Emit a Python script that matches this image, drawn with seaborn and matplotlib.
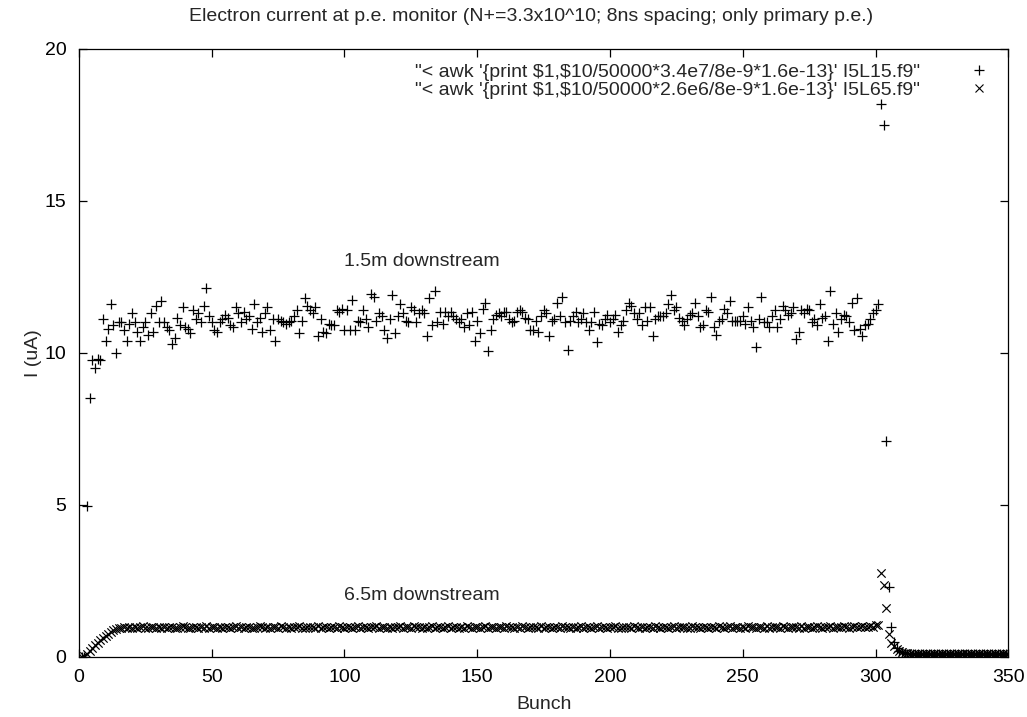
import matplotlib
matplotlib.use("Agg")
import matplotlib.pyplot as plt
import seaborn as sns
import pandas as pd
from matplotlib.lines import Line2D

# ---------------- data ----------------
bunches = list(range(1, 351))

# 1.5 m downstream ("+" series), bunches 1..350
l15_a = [0.0, 0.0, 4.95, 8.5, 9.77, 9.5, 9.8, 9.77, 11.1, 10.4, 10.8, 11.6, 10.9, 10.0, 11.0, 11.0, 10.75, 10.4, 10.95, 11.3,
         11.0, 10.7, 10.4, 10.85, 11.0, 10.6, 11.3, 10.7, 11.55, 11.0, 11.7, 11.0, 10.85, 10.75, 10.3, 10.5, 11.15, 10.9, 11.5, 10.85,
         10.8, 10.65, 11.4, 11.1, 11.3, 11.0, 11.55, 12.15, 11.2, 11.0, 10.75, 10.7, 11.0, 11.1, 11.25, 11.15, 10.9, 10.85, 11.5, 11.3,
         11.0, 11.35, 11.1, 11.2, 10.8, 11.6, 11.0, 11.15, 10.7, 11.3, 11.5, 10.75, 11.1, 10.4, 11.1, 11.05, 11.0, 10.95, 11.0, 11.05,
         11.2, 11.4]
l15_b = [10.65, 11.05, 11.8, 11.55, 11.4, 11.3, 11.5, 10.55, 11.1, 10.7, 10.65, 10.95, 10.9, 10.9, 11.4, 11.35, 11.45, 10.75, 11.4, 10.75,
         11.75, 10.75, 11.05, 11.0, 11.4, 11.1, 10.85, 11.95, 11.85, 11.05, 11.3, 11.2, 10.75, 10.5, 11.1, 11.9, 10.65, 11.2, 11.6, 11.3,
         11.05, 11.0, 11.5, 11.4, 11.0, 11.3, 11.4, 11.3, 10.55, 11.8, 10.9, 12.05, 11.0, 11.35, 10.95, 11.35, 11.2, 11.35, 11.2, 11.1,
         11.0, 11.1, 10.85, 11.3, 10.9, 11.35, 10.4, 11.05, 10.65, 11.45, 11.65, 10.05, 10.75, 11.1, 11.25, 11.3, 11.2, 11.35, 11.35, 11.1,
         11.0, 11.05, 11.35]
l15_c = [11.4, 11.35, 11.15, 11.1, 10.75, 10.75, 11.05, 10.7, 11.2, 11.4, 11.3, 10.55, 11.05, 11.1, 11.65, 11.2, 11.85, 11.0, 10.1, 11.05,
         11.2, 11.35, 11.0, 11.1, 11.3, 11.0, 10.75, 11.0, 11.35, 10.35, 10.95, 10.9, 11.1, 11.25, 11.0, 11.1, 11.25, 10.7, 10.9, 11.05,
         11.4, 11.65, 11.55, 11.3, 11.1, 11.3, 10.9, 11.5, 11.05, 11.5, 10.55, 11.1, 11.2, 11.2, 11.2, 11.3, 11.6, 11.9, 11.4, 11.5,
         11.15, 11.05, 10.9, 11.1, 11.25, 11.3, 11.65, 11.2, 10.85, 10.9, 11.4, 11.35, 11.85, 10.85, 10.6, 11.05, 11.1, 11.45, 11.3, 11.7,
         11.05, 11.05, 11.05]
l15_d = [11.05, 11.2, 10.95, 11.5, 11.05, 10.85, 10.2, 11.1, 11.85, 11.0, 11.0, 10.85, 11.2, 11.4, 10.85, 11.1, 11.55, 11.4, 11.25, 11.3,
         11.5, 10.45, 10.7, 11.4, 11.3, 11.45, 11.4, 11.0, 11.1, 10.9, 11.6, 11.15, 11.2, 10.4, 12.05, 10.95, 11.3, 10.7, 11.1, 11.25,
         11.2, 11.0, 11.65, 10.75, 11.8, 10.8, 10.55, 10.9, 10.95, 11.1, 11.3, 11.4, 11.6]
l15_e = [18.2, 17.5, 7.1, 2.3, 0.98, 0.5, 0.3, 0.2, 0.15, 0.12,
         0.1, 0.1, 0.1, 0.1, 0.1, 0.1, 0.1, 0.1, 0.1, 0.1,
         0.1, 0.1, 0.1, 0.1, 0.1, 0.1, 0.1, 0.1, 0.1, 0.1,
         0.1, 0.1, 0.1, 0.1, 0.1, 0.1, 0.1, 0.1, 0.1, 0.1,
         0.1, 0.1, 0.1, 0.1, 0.1, 0.1, 0.1, 0.1, 0.1]
current_15m = l15_a + l15_b + l15_c + l15_d + l15_e

# 6.5 m downstream ("x" series), bunches 1..350
l65_rise = [0.0, 0.03, 0.1, 0.19, 0.28, 0.37, 0.46, 0.54, 0.62, 0.69, 0.76, 0.82, 0.87, 0.91, 0.93]
l65_flat = [
    0.95, 0.97, 0.94, 0.98, 0.96, 0.99, 0.95, 0.97, 1.0, 0.96, 0.94, 0.98, 0.97, 0.95, 0.99, 0.96, 0.98, 0.94, 0.97, 0.99,
    0.96, 0.95, 0.98, 1.0, 0.97, 0.94, 0.96, 0.99, 0.97, 0.95, 0.98, 0.96, 1.01, 0.95, 0.97, 0.99, 0.94, 0.98, 0.96, 0.97,
    0.99, 0.95, 0.97, 1.0, 0.96, 0.98, 0.95, 0.97, 0.99, 0.96, 0.94, 0.98, 1.01, 0.97, 0.95, 0.99, 0.96, 0.98, 0.97, 0.95,
    1.0, 0.97, 0.96, 0.99, 0.95, 0.98, 0.97, 1.01, 0.96, 0.95, 0.99, 0.97, 0.98, 0.96, 1.0, 0.95, 0.97, 0.99, 0.96, 0.98,
    0.97, 0.95, 1.0, 0.98, 0.96, 0.99, 0.97, 0.95, 0.98, 1.01, 0.96, 0.97, 0.99, 0.95, 0.98, 0.97, 1.0, 0.96, 0.97, 0.99,
    0.96, 0.98, 0.95, 0.99, 0.97, 1.01, 0.96, 0.98, 0.97, 0.95, 1.0, 0.97, 0.99, 0.96, 0.98, 0.95, 0.97, 1.0, 0.96, 0.99,
    0.97, 0.95, 0.98, 1.0, 0.96, 0.97, 0.99, 0.95, 0.98, 0.96, 1.01, 0.97, 0.95, 0.99, 0.97, 0.96, 0.98, 1.0, 0.95, 0.97,
    0.99, 0.96, 0.98, 0.97, 0.95, 1.0, 0.97, 0.99, 0.96, 0.98, 0.95, 1.01, 0.97, 0.96, 0.99, 0.97, 0.98, 0.95, 1.0, 0.96,
    0.97, 0.99, 0.95, 0.98, 0.97, 0.96, 1.0, 0.97, 0.99, 0.95, 0.98, 0.96, 0.97, 1.01, 0.95, 0.99, 0.97, 0.96, 0.98, 1.0,
    0.96, 0.97, 0.99, 0.95, 0.98, 0.97, 1.0, 0.96, 0.95, 0.99, 0.97, 0.98, 0.96, 1.01, 0.97, 0.95, 0.99, 0.96, 0.98, 0.97,
    0.95, 1.0, 0.97, 0.96, 0.99, 0.98, 0.95, 0.97, 1.01, 0.96, 0.98, 0.97, 0.99, 0.95, 0.96, 1.0, 0.97, 0.98, 0.96, 0.99,
    0.97, 0.95, 0.99, 0.98, 0.96, 1.0, 0.97, 0.95, 0.98, 1.01, 0.96, 0.97, 0.99, 0.96, 0.98, 0.95, 1.0, 0.97, 0.99, 0.96,
    0.98, 0.97, 0.95, 1.0, 0.96, 0.99, 0.97, 0.98, 0.95, 1.01, 0.97, 0.96, 0.99, 0.98, 0.97, 0.95, 1.0, 0.96, 0.99, 0.97,
    0.96, 0.98, 1.0, 0.97, 0.95, 0.99, 0.97, 1.01, 0.96, 0.98, 0.99, 0.97, 1.0, 0.98, 0.96, 0.99, 1.01, 0.97, 0.99, 1.0,
    0.98, 0.99, 1.01, 0.97, 1.03, 1.05]
l65_tail = [2.75, 2.35, 1.6, 0.76, 0.46, 0.35, 0.25, 0.18, 0.14, 0.12,
            0.11, 0.1, 0.1, 0.1, 0.1, 0.1, 0.1, 0.1, 0.1, 0.1,
            0.1, 0.1, 0.1, 0.1, 0.1, 0.1, 0.1, 0.1, 0.1, 0.1,
            0.1, 0.1, 0.1, 0.1, 0.1, 0.1, 0.1, 0.1, 0.1, 0.1,
            0.1, 0.1, 0.1, 0.1, 0.1, 0.1, 0.1, 0.1, 0.1]
current_65m = l65_rise + l65_flat + l65_tail

x_ticks = [0, 50, 100, 150, 200, 250, 300, 350]
y_ticks = [0, 5, 10, 15, 20]

title = "Electron current at p.e. monitor (N+=3.3x10^10; 8ns spacing; only primary p.e.)"
label_15 = "\"< awk '{print \\$1,\\$10/50000*3.4e7/8e-9*1.6e-13}' I5L15.f9\""
label_65 = "\"< awk '{print \\$1,\\$10/50000*2.6e6/8e-9*1.6e-13}' I5L65.f9\""
note_15 = "1.5m downstream"
note_65 = "6.5m downstream"

assert len(current_15m) == 350, len(current_15m)
assert len(current_65m) == 350, len(current_65m)

df15 = pd.DataFrame({"Bunch": bunches, "I": current_15m})
df65 = pd.DataFrame({"Bunch": bunches, "I": current_65m})

# ---------------- plot ----------------
sns.set_style("white")
plt.rcParams["font.family"] = ["Liberation Sans", "DejaVu Sans"]
FS = 14

fig = plt.figure(figsize=(10.27, 7.17), dpi=100)
ax = fig.add_axes([0.0769, 0.0841, 0.9049, 0.8476])

sns.scatterplot(data=df15, x="Bunch", y="I", marker="+", s=46, color="black",
                linewidth=0.9, ax=ax, legend=False, zorder=3)
sns.scatterplot(data=df65, x="Bunch", y="I", marker="x", s=36, color="black",
                linewidth=0.85, ax=ax, legend=False, zorder=3)

ax.set_xlim(0, 350)
ax.set_ylim(0, 20)
ax.set_xticks(x_ticks)
ax.set_yticks(y_ticks)
ax.set_xlabel("Bunch", fontsize=FS, labelpad=7)
ax.set_ylabel("I (uA)", fontsize=FS, labelpad=2)
ax.set_title(title, fontsize=FS, pad=20, x=0.486)

for sp in ax.spines.values():
    sp.set_color("black")
    sp.set_linewidth(0.9)
ax.tick_params(axis="both", direction="in", length=6, width=0.9, top=True, right=True,
               bottom=True, left=True, labelsize=FS, colors="black")
ax.tick_params(axis="x", pad=9)
ax.tick_params(axis="y", pad=9)

ax.text(100, 13.0, note_15, ha="left", va="center", fontsize=FS)
ax.text(100, 2.0, note_65, ha="left", va="center", fontsize=FS)

handles = [Line2D([], [], linestyle="none", marker="+", color="black", markersize=7, markeredgewidth=0.9),
           Line2D([], [], linestyle="none", marker="x", color="black", markersize=6, markeredgewidth=0.8)]
ax.legend(handles, [label_15, label_65], loc="upper right", markerfirst=False, frameon=False,
          bbox_to_anchor=(1.0, 1.0), handletextpad=2.3, labelspacing=0.0, fontsize=FS,
          handlelength=1.5, borderaxespad=0.35)

fig.savefig("out.png", dpi=100)
